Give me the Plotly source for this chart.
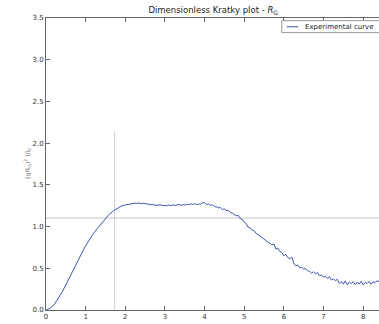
import plotly.graph_objects as go

# Data
q_rg_rise = [round(0.1 * i, 2) for i in range(20)]          # 0.0 .. 1.9
kratky_rise = [
    0.00, 0.02, 0.06, 0.13, 0.21, 0.30, 0.40, 0.50, 0.59, 0.68,
    0.77, 0.85, 0.92, 0.98, 1.04, 1.10, 1.15, 1.19, 1.22, 1.245,
]
q_rg_tail = [round(2.0 + 0.05 * i, 2) for i in range(129)]  # 2.00 .. 8.40
kratky_tail = [
    1.260, 1.265, 1.272, 1.268, 1.276, 1.280, 1.278, 1.284, 1.272, 1.279,
    1.276, 1.268, 1.266, 1.262, 1.264, 1.255, 1.258, 1.252, 1.260, 1.250,
    1.254, 1.248, 1.258, 1.250, 1.262, 1.252, 1.258, 1.266, 1.254, 1.262,
    1.258, 1.268, 1.262, 1.272, 1.266, 1.275, 1.262, 1.270, 1.268, 1.285,
    1.288, 1.262, 1.272, 1.254, 1.262, 1.240, 1.236, 1.225, 1.228, 1.205,
    1.212, 1.192, 1.196, 1.168, 1.160, 1.145, 1.128, 1.135, 1.096, 1.088,
    1.052, 1.036, 0.990, 0.985, 0.958, 0.952, 0.918, 0.905, 0.884, 0.870,
    0.842, 0.826, 0.812, 0.798, 0.782, 0.790, 0.730, 0.742, 0.700, 0.690,
    0.650, 0.668, 0.628, 0.612, 0.636, 0.560, 0.530, 0.540, 0.505, 0.512,
    0.488, 0.498, 0.470, 0.462, 0.440, 0.458, 0.436, 0.448, 0.412, 0.420,
    0.392, 0.405, 0.378, 0.398, 0.360, 0.372, 0.352, 0.368, 0.318, 0.342,
    0.310, 0.350, 0.302, 0.336, 0.318, 0.340, 0.305, 0.335, 0.312, 0.345,
    0.300, 0.330, 0.318, 0.342, 0.308, 0.338, 0.328, 0.352, 0.340,
]
q_rg = q_rg_rise + q_rg_tail
kratky = kratky_rise + kratky_tail

guinier_peak_x = [1.732, 1.732]
guinier_peak_y = [0.0, 2.14]
guinier_level_x = [0.0, 8.4]
guinier_level_y = [1.104, 1.104]

x_ticks = [0, 1, 2, 3, 4, 5, 6, 7, 8]
y_ticks = [0.0, 0.5, 1.0, 1.5, 2.0, 2.5, 3.0, 3.5]

FONT = "DejaVu Sans"
AX = "#666666"
BLUE = "#3f57b0"

fig = go.Figure()
fig.add_trace(go.Scatter(x=guinier_level_x, y=guinier_level_y, mode="lines",
                         line=dict(color="#e2e2e2", width=2), showlegend=False, hoverinfo="skip"))
fig.add_trace(go.Scatter(x=guinier_peak_x, y=guinier_peak_y, mode="lines",
                         line=dict(color="#cccccc", width=1), showlegend=False, hoverinfo="skip"))
fig.add_trace(go.Scatter(x=q_rg, y=kratky, mode="lines", name="Experimental curve",
                         line=dict(color=BLUE, width=1), showlegend=False))

fig.update_layout(
    width=379, height=324,
    margin=dict(l=46, r=0, t=18, b=14),
    paper_bgcolor="white", plot_bgcolor="white",
    font=dict(family=FONT, size=7, color="#333333"),
    title=dict(text="Dimensionless Kratky plot - <i>R</i><sub>G</sub>", x=0.5625, xanchor="center",
               y=1, yref="container", yanchor="top", pad=dict(t=7),
               font=dict(family=FONT, size=8.5, color="#222222")),
    xaxis=dict(range=[0, 8.4], tickvals=x_ticks, ticktext=[str(v) for v in x_ticks],
               showgrid=False, zeroline=False, showline=True, linecolor=AX, linewidth=1,
               mirror="ticks", ticks="inside", ticklen=4, tickcolor=AX, tickwidth=1,
               tickfont=dict(size=7, color="#333333")),
    yaxis=dict(range=[0, 3.5], tickvals=y_ticks, ticktext=[f"{v:.1f}" for v in y_ticks],
               showgrid=False, zeroline=False, showline=True, linecolor=AX, linewidth=1,
               ticks="inside", ticklen=4, tickcolor=AX, tickwidth=1,
               tickfont=dict(size=7, color="#333333")),
    shapes=[
        dict(type="rect", xref="paper", yref="paper", x0=0.708, x1=1.01, y0=0.950, y1=0.991,
             line=dict(color="#999999", width=1), fillcolor="white", layer="above"),
        dict(type="line", xref="paper", yref="paper", x0=0.723, x1=0.757, y0=0.970, y1=0.970,
             line=dict(color=BLUE, width=1), layer="above"),
    ],
    annotations=[
        dict(text="Experimental curve", xref="paper", yref="paper", x=0.771, y=0.970,
             xanchor="left", yanchor="middle", showarrow=False,
             font=dict(family=FONT, size=7, color="#222222")),
        dict(text="(qR<sub>G</sub>)<sup>2</sup> I/I<sub>0</sub>", xref="paper", yref="paper",
             x=0, y=0.5, xshift=-19, textangle=-90, xanchor="center", yanchor="middle",
             showarrow=False, font=dict(family=FONT, size=6.5, color="#777777")),
        dict(text="qR<sub>G</sub>", xref="paper", yref="paper", x=0.5, y=0, yshift=-12,
             xanchor="center", yanchor="top", showarrow=False,
             font=dict(family=FONT, size=6.5, color="#777777")),
    ],
)

fig.write_html("out.html", config={"displayModeBar": False},
               post_script="document.body.style.margin='0';document.body.style.overflow='hidden';")
